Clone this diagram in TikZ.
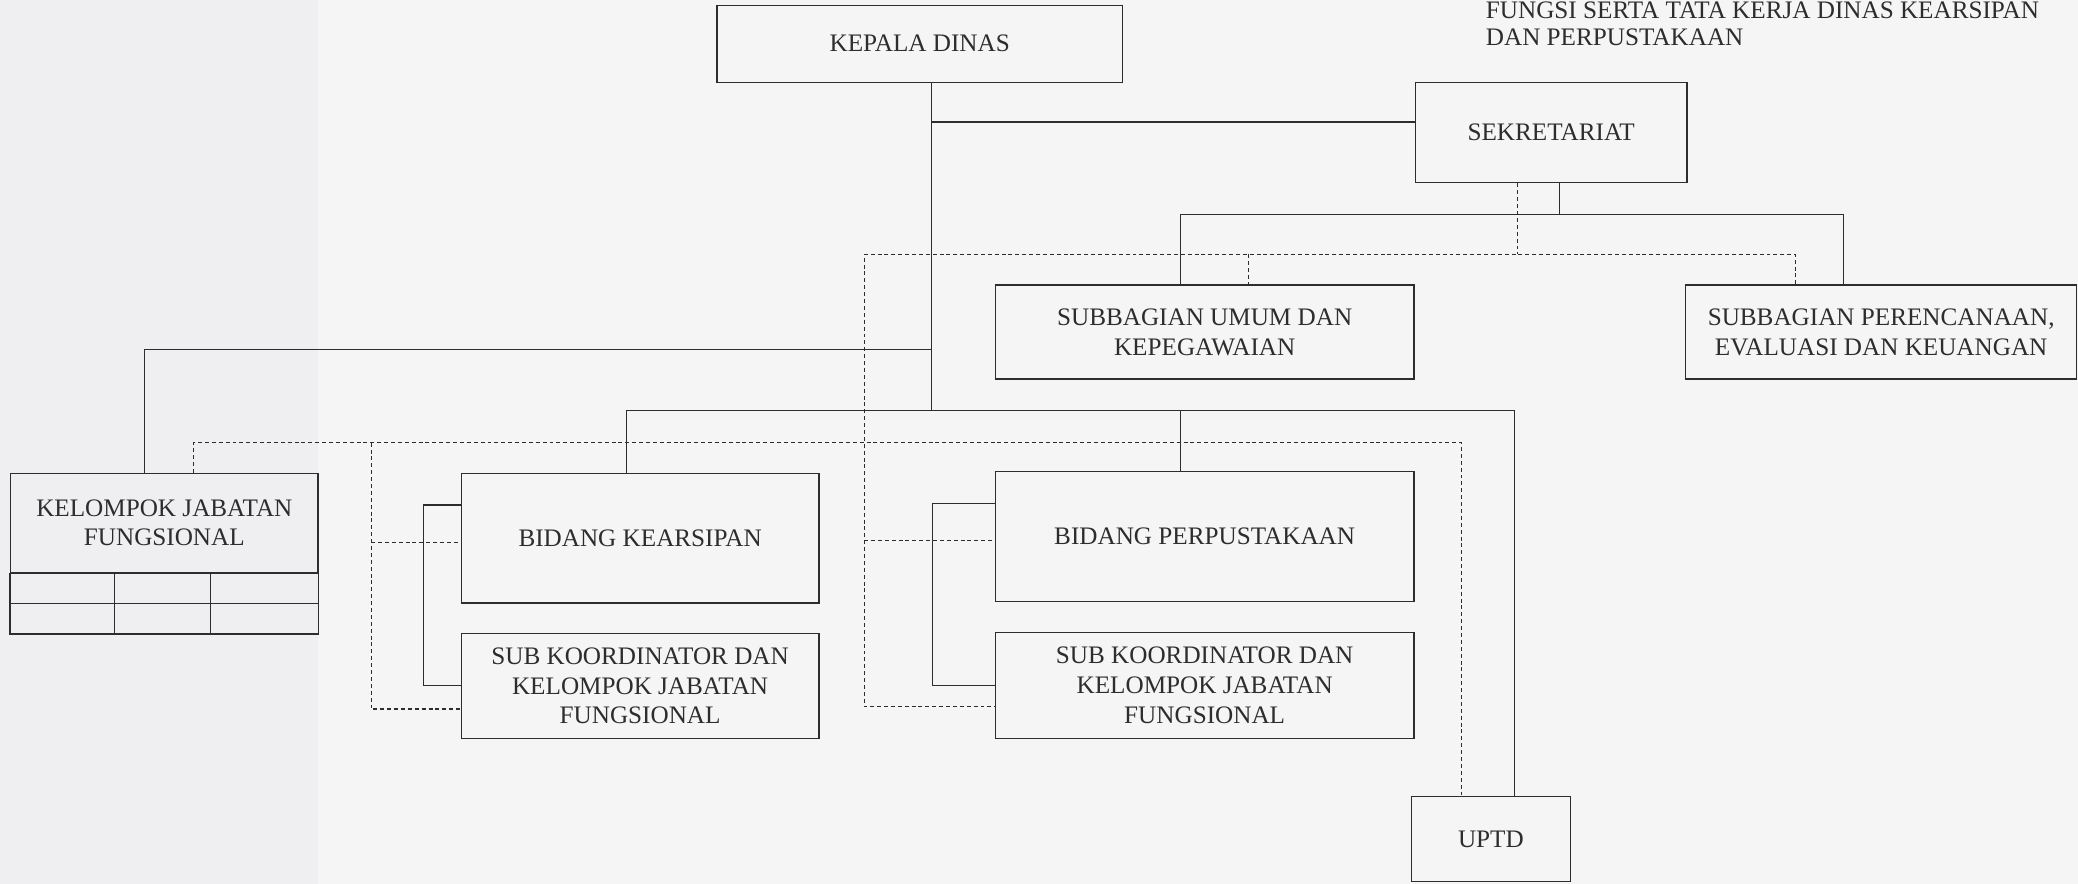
\documentclass[tikz,border=0pt]{standalone}
\usepackage{fontspec}
\setmainfont{Liberation Serif}
\usetikzlibrary{calc}
\definecolor{bgmain}{RGB}{245,245,245}
\definecolor{bgleft}{RGB}{239,239,241}
\definecolor{inkc}{RGB}{45,45,45}
\begin{document}
\begin{tikzpicture}[x=1pt,y=-1pt,
  ln/.style={draw=inkc, line width=0.9pt},
  dsh/.style={draw=inkc, line width=0.8pt, dash pattern=on 3pt off 2.2pt},
  box/.style={draw=inkc, line width=0.9pt, rectangle, inner sep=0pt, align=center,
    font=\fontsize{19}{22.5}\selectfont, text=inkc},
  ttl/.style={inner sep=0pt, anchor=base west, font=\fontsize{19}{22.5}\selectfont, text=inkc}]
\useasboundingbox (0,0) rectangle (1568,667);
\fill[bgmain] (0,0) rectangle (1568,667);
\fill[bgleft] (0,0) rectangle (240,667);

% title
\node[ttl] (ttl1) at (1121,14) {FUNGSI SERTA TATA KERJA DINAS KEARSIPAN};
\node[ttl] (ttl2) at (1121,34) {DAN PERPUSTAKAAN};

% boxes
\node[box, minimum width=306pt, minimum height=58pt] (kd) at (694,33) {KEPALA DINAS};
\node[box, minimum width=205pt, minimum height=76pt] (sek) at (1170.5,100) {SEKRETARIAT};
\node[box, minimum width=316pt, minimum height=71pt] (sum) at (909,250.5) {SUBBAGIAN UMUM DAN\\KEPEGAWAIAN};
\node[box, minimum width=295pt, minimum height=71pt] (spe) at (1419.5,250.5) {SUBBAGIAN PERENCANAAN,\\EVALUASI DAN KEUANGAN};
\node[box, minimum width=232pt, minimum height=75pt] (kjf) at (124,394.5) {KELOMPOK JABATAN\\FUNGSIONAL};
\node[box, minimum width=270pt, minimum height=98pt] (bk) at (483,406) {BIDANG KEARSIPAN};
\node[box, minimum width=270pt, minimum height=79pt] (sk1) at (483,517.5) {SUB KOORDINATOR DAN\\KELOMPOK JABATAN\\FUNGSIONAL};
\node[box, minimum width=316pt, minimum height=98pt] (bp) at (909,405) {BIDANG PERPUSTAKAAN};
\node[box, minimum width=316pt, minimum height=80pt] (sk2) at (909,517) {SUB KOORDINATOR DAN\\KELOMPOK JABATAN\\FUNGSIONAL};
\node[box, minimum width=120pt, minimum height=64pt] (uptd) at (1125,633) {UPTD};

% grid under kelompok jabatan fungsional
\draw[ln] (kjf.south west) rectangle ($(kjf.south east)+(0,46)$);
\draw[ln] ($(kjf.south west)+(0,23)$) -- ($(kjf.south east)+(0,23)$);
\draw[ln] ($(kjf.south west)+(79,0)$) -- ++(0,46);
\draw[ln] ($(kjf.south west)+(151,0)$) -- ++(0,46);

% ports
\coordinate (tC) at (703,310);
\coordinate (tB) at (703,264);
\coordinate (lvS) at (0,162);
\coordinate (lvD) at (0,192);
\coordinate (lvE) at (0,334);
\coordinate (dL) at (652,192);
\coordinate (dM) at (280,334);
\path ($(sek.west)+(0,-8)$) coordinate (sekW)
      ($(sek.south)+(6.5,0)$) coordinate (sekA)
      ($(sek.south)+(-25.5,0)$) coordinate (sekB)
      ($(sum.north)+(-18,0)$) coordinate (sumA)
      ($(sum.north)+(33,0)$) coordinate (sumB)
      ($(spe.north)+(-28.5,0)$) coordinate (speA)
      ($(spe.north)+(-64.5,0)$) coordinate (speB)
      ($(kjf.north)+(-15,0)$) coordinate (kjfA)
      ($(kjf.north)+(22,0)$) coordinate (kjfB)
      ($(bk.north)+(-10,0)$) coordinate (bkA)
      ($(bp.north)+(-18,0)$) coordinate (bpA)
      ($(uptd.north)+(18,0)$) coordinate (uptdA)
      ($(uptd.north)+(-22,0)$) coordinate (uptdB)
      ($(bk.west)+(0,-25)$) coordinate (bkL)
      ($(bp.west)+(0,-25)$) coordinate (bpL)
      ($(bk.west)+(0,3)$) coordinate (bkW)
      ($(bp.west)+(0,3)$) coordinate (bpW)
      ($(sk1.west)+(0,17.5)$) coordinate (sk1W)
      ($(sk2.west)+(0,16)$) coordinate (sk2W);

% solid connectors
\draw[ln] (kd.south -| tC) -- (tC);
\draw[ln] (sekW -| tC) -- (sekW);
\draw[ln] (tB) -| (kjfA);
\draw[ln] (bkA) |- (tC) -| (uptdA);
\draw[ln] (bpA) -- (bpA |- tC);
\draw[ln] (sekA) -- (sekA |- lvS);
\draw[ln] (sumA) |- (speA |- lvS) -- (speA);
\draw[ln] (bkL) -- ++(-28,0) |- (sk1.west);
\draw[ln] (bpL) -- ++(-47,0) |- (sk2.west);

% dashed connectors
\draw[dsh] (sekB) -- (sekB |- lvD);
\draw[dsh] (speB) |- (dL) |- (sk2W);
\draw[dsh] (sumB |- lvD) -- (sumB);
\draw[dsh] (dL |- bpW) -- (bpW);
\draw[dsh] (kjfB) |- (uptdB |- lvE) -- (uptdB);
\draw[dsh] (dM) |- (sk1W);
\draw[dsh] (dM |- bkW) -- (bkW);
\end{tikzpicture}
\end{document}
